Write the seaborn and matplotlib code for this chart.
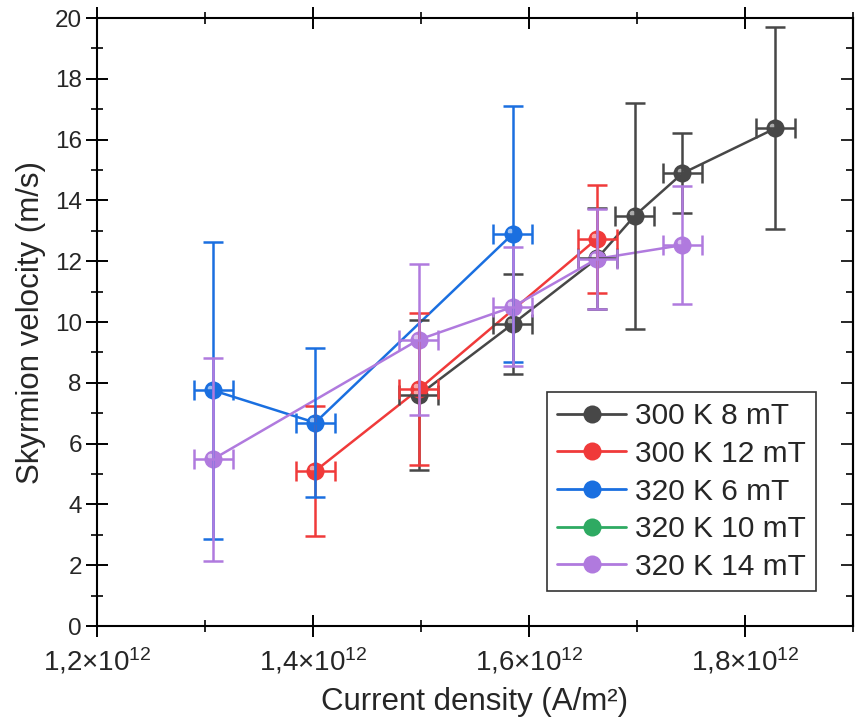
import matplotlib
matplotlib.use('Agg')
import matplotlib.pyplot as plt
import matplotlib.transforms as mtransforms
from matplotlib.lines import Line2D
from matplotlib.ticker import MultipleLocator, FuncFormatter
import numpy as np
import seaborn as sns

# Datos (densidad de corriente en unidades de 1e12 A/m^2)
labels = ['300 K 8 mT', '300 K 12 mT', '320 K 6 mT', '320 K 10 mT', '320 K 14 mT']
colors = ['#474747', '#f03a3a', '#1a6fe0', '#2eaa62', '#b07ade']

j_300_8 = [1.498, 1.585, 1.663, 1.698, 1.742, 1.828]
v_300_8 = [7.60, 9.94, 12.09, 13.50, 14.89, 16.37]
e_300_8 = [2.46, 1.65, 1.65, 3.72, 1.32, 3.32]

j_300_12 = [1.402, 1.498, 1.663]
v_300_12 = [5.10, 7.79, 12.74]
e_300_12 = [2.13, 2.50, 1.78]

j_320_6 = [1.3075, 1.402, 1.585]
v_320_6 = [7.75, 6.69, 12.90]
e_320_6 = [4.89, 2.46, 4.22]

j_320_10 = []
v_320_10 = []
e_320_10 = []

j_320_14 = [1.3075, 1.498, 1.585, 1.663, 1.742]
v_320_14 = [5.49, 9.42, 10.50, 12.08, 12.53]
e_320_14 = [3.34, 2.49, 1.96, 1.65, 1.93]

xerr = 0.018  # error en la densidad de corriente

series = [
    (j_300_8, v_300_8, e_300_8),
    (j_300_12, v_300_12, e_300_12),
    (j_320_6, v_320_6, e_320_6),
    (j_320_10, v_320_10, e_320_10),
    (j_320_14, v_320_14, e_320_14),
]

sns.set_style('ticks')
plt.rcParams['font.family'] = ['Liberation Sans', 'DejaVu Sans']
plt.rcParams['mathtext.default'] = 'regular'

fig = plt.figure(figsize=(8.55, 7.26), dpi=100)
ax = fig.add_axes([0.1135, 0.1377, 0.8842, 0.8375])

# brillo para simular las esferas
shine = ax.transData + mtransforms.ScaledTranslation(-2 / 72, 2 / 72, fig.dpi_scale_trans)

for (j, v, e), col, lab in zip(series, colors, labels):
    if len(j) == 0:
        continue
    sns.lineplot(x=j, y=v, color=col, linewidth=1.8, marker='o', markersize=13,
                 markeredgewidth=0, sort=False, estimator=None, ax=ax, zorder=3)
    ax.plot(j, v, 'o', color='white', alpha=0.55, markersize=4, markeredgewidth=0,
            transform=shine, zorder=3.5)

for (j, v, e), col in zip(series, colors):
    if len(j) == 0:
        continue
    ax.errorbar(j, v, yerr=e, xerr=xerr, fmt='none', ecolor=col, elinewidth=1.8,
                capsize=7.5, capthick=1.8, zorder=4)

ax.set_xlim(1.2, 1.9)
ax.set_ylim(0, 20)
ax.xaxis.set_major_locator(MultipleLocator(0.2))
ax.xaxis.set_minor_locator(MultipleLocator(0.1))
ax.yaxis.set_major_locator(MultipleLocator(2))
ax.yaxis.set_minor_locator(MultipleLocator(1))


def fmt_x(val, pos):
    s = f'{val:.1f}'.replace('.', ',')
    return s + '×10$^{12}$'


ax.xaxis.set_major_formatter(FuncFormatter(fmt_x))

for sp in ax.spines.values():
    sp.set_linewidth(1.5)
    sp.set_color('black')

ax.tick_params(axis='both', which='major', direction='inout', length=16, width=1.4,
               labelsize=17.5, color='black', top=True, right=False)
ax.tick_params(axis='both', which='minor', direction='inout', length=9, width=1.4,
               top=True, right=False)
ax.tick_params(axis='y', which='major', pad=3)
ax.tick_params(axis='x', which='major', pad=6, labelsize=20)

# ticks hacia dentro en el eje derecho
sec = ax.secondary_yaxis('right')
sec.yaxis.set_major_locator(MultipleLocator(2))
sec.yaxis.set_minor_locator(MultipleLocator(1))
sec.tick_params(which='major', direction='in', length=9, width=1.4, labelright=False)
sec.tick_params(which='minor', direction='in', length=5, width=1.4)
sec.spines['right'].set_linewidth(1.5)

ax.set_xlabel('Current density (A/m²)', fontsize=22.5, labelpad=8)
ax.set_ylabel('Skyrmion velocity (m/s)', fontsize=22.5, labelpad=6)

handles = [Line2D([], [], color=c, linewidth=2, marker='o', markersize=13, markeredgewidth=0)
           for c in colors]
leg = ax.legend(handles, labels, loc='upper left', bbox_to_anchor=(0.595, 0.385),
                borderaxespad=0, fontsize=21.5, frameon=True, fancybox=False,
                edgecolor='#333333', framealpha=1, handlelength=2.3, handletextpad=0.3,
                labelspacing=0.32, borderpad=0.35)
leg.get_frame().set_linewidth(1.2)

fig.savefig('out.png', dpi=100)
